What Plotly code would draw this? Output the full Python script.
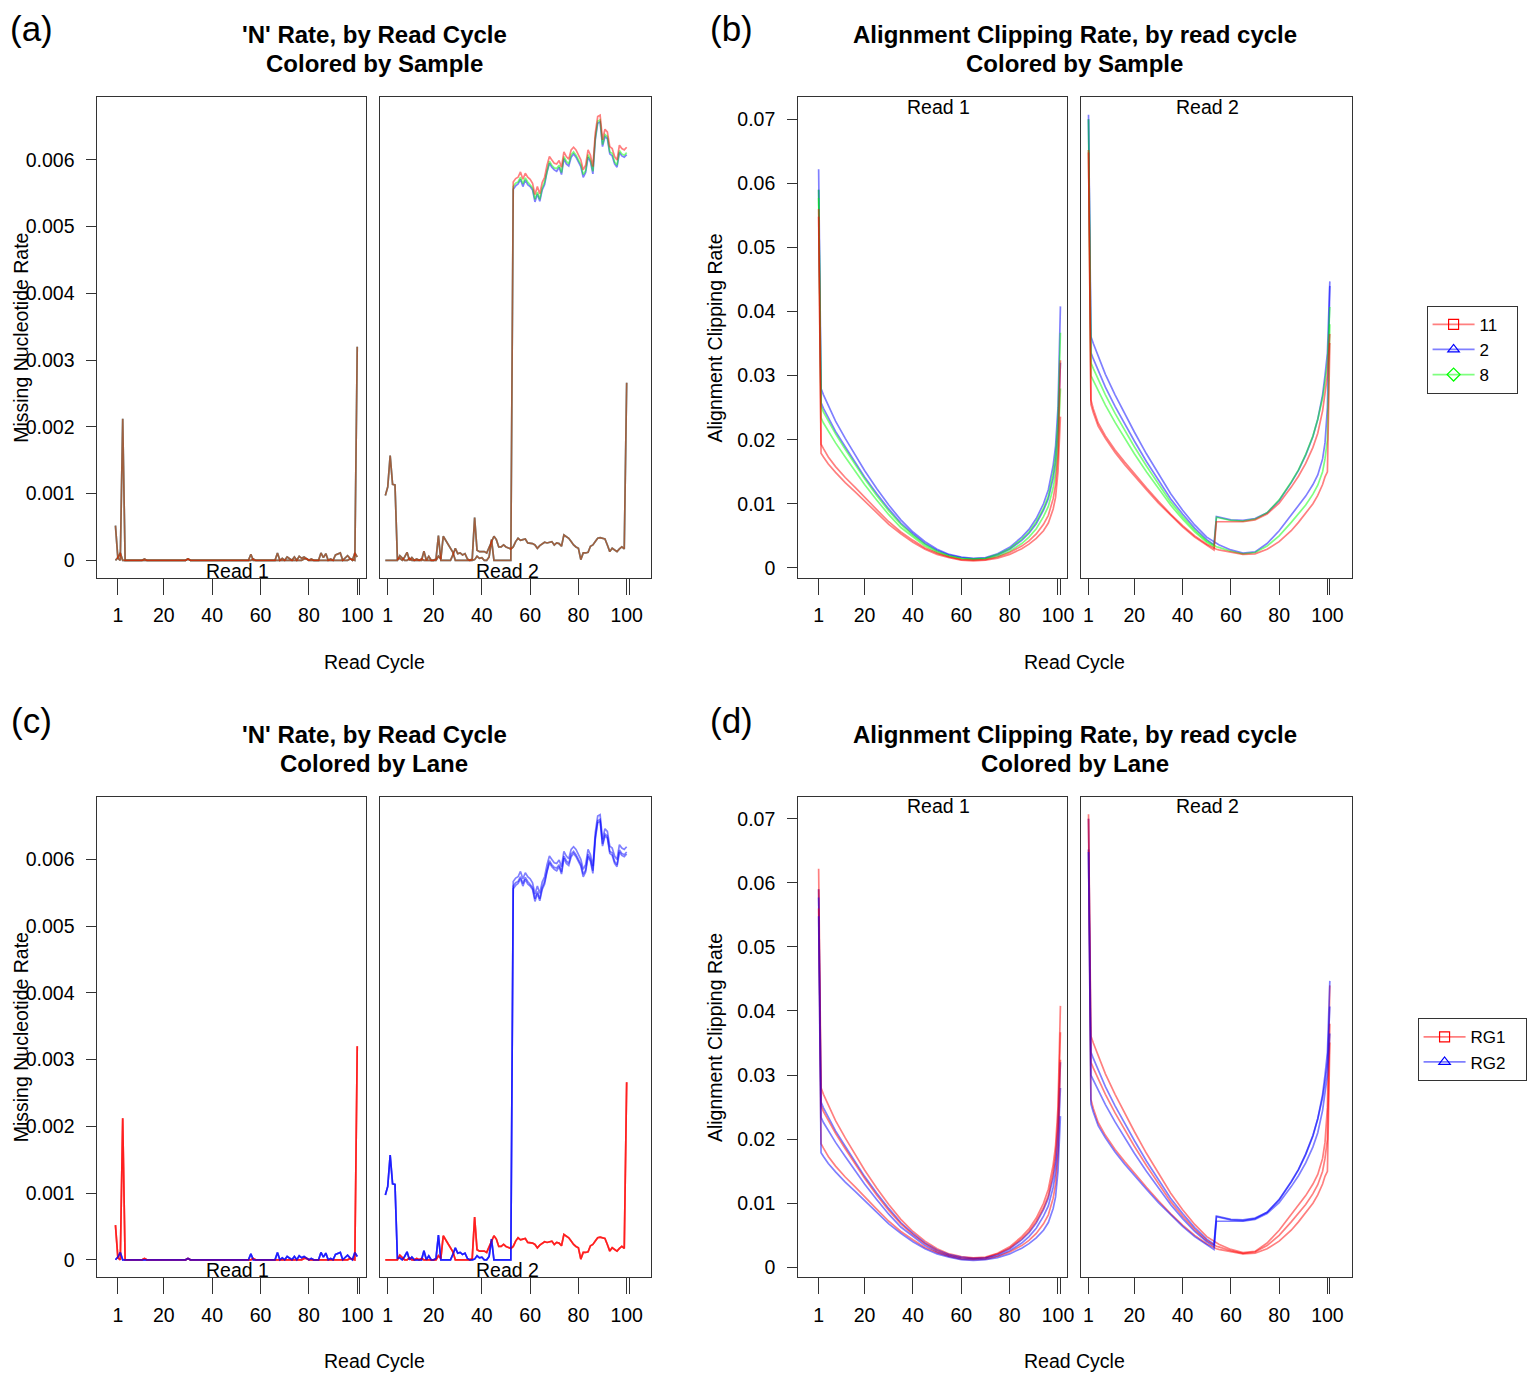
import plotly.graph_objects as go

# Page is rendered with an 8px body margin, so the figure is offset by OFF px.
OFF = 8
SX = 1.0057          # horizontal correction observed between page and picture
W, H = 1524, 1384
FONT = "Liberation Sans, Arial, Helvetica, sans-serif"

# ------------------------------------------------------------------ data
samples = ["2", "8", "11"]          # drawing order
lanes = ["RG1", "RG2"]
legend_samples = ["11", "2", "8"]
legend_lanes = ["RG1", "RG2"]

n_cycles = list(range(0, 101))

# 'N' rate, read 1, lane RG1 (same for every sample)
n_r1_rg1 = [0.00052, 0.00003, 0.0, 0.00212, 0.0, 0.0, 0.0, 0.0, 0.0, 0.0,
            0.0, 0.0, 0.00002, 0.0, 0.0, 0.0, 0.0, 0.0, 0.0, 0.0,
            0.0, 0.0, 0.0, 0.0, 0.0, 0.0, 0.0, 0.0, 0.0, 0.0,
            0.00002, 0.0, 0.0, 0.0, 0.0, 0.0, 0.0, 0.0, 0.0, 0.0,
            0.0, 0.0, 0.0, 0.0, 0.0, 0.0, 0.0, 0.0, 0.0, 0.0,
            0.0, 0.0, 0.0, 0.0, 0.0, 0.0, 0.0, 0.00002, 0.0, 0.0,
            0.0, 0.0, 0.0, 0.0, 0.0, 0.0, 0.0, 0.0, 0.0, 0.0,
            0.0, 0.0, 0.0, 0.0, 0.0, 0.0, 0.0, 0.0, 0.00002, 0.00002,
            0.0, 0.0, 0.0, 0.0, 0.0, 0.0, 0.0, 0.0, 0.0, 0.0,
            0.0, 0.0, 0.0, 0.0, 0.0, 0.0, 0.0, 0.00002, 0.00001, 0.0,
            0.0032]

# 'N' rate, read 1, lane RG2
n_r1_rg2 = [0.0, 0.00004, 0.00011, 0.0, 0.0, 0.0, 0.0, 0.0, 0.0, 0.0,
            0.0, 0.0, 0.0, 0.0, 0.0, 0.0, 0.0, 0.0, 0.0, 0.0,
            0.0, 0.0, 0.0, 0.0, 0.0, 0.0, 0.0, 0.0, 0.0, 0.0,
            0.00002, 0.0, 0.0, 0.0, 0.0, 0.0, 0.0, 0.0, 0.0, 0.0,
            0.0, 0.0, 0.0, 0.0, 0.0, 0.0, 0.0, 0.0, 0.0, 0.0,
            0.0, 0.0, 0.0, 0.00001, 0.0, 0.0, 0.00009, 0.0, 0.0, 0.0,
            0.0, 0.00001, 0.0, 0.0, 0.0, 0.0, 0.0, 0.00011, 0.0, 0.00003,
            0.0, 0.00005, 0.00002, 0.0, 0.00005, 0.0, 0.00006, 0.00003, 0.00005, 0.00002,
            0.0, 0.00002, 0.0, 0.0, 0.0, 0.00011, 0.00004, 0.0001, 0.0, 0.00002,
            0.0, 0.00008, 0.0001, 0.00011, 0.0, 0.00003, 0.00007, 0.00003, 0.0, 0.00011,
            0.00005]

# 'N' rate, read 2, lane RG1
n_r2_rg1 = [0.0, 0.0, 0.0, 0.0, 0.0, 0.0, 0.00007, 0.00003, 0.0, 0.0,
            0.00003, 0.0, 0.0, 0.00002, 0.0, 0.00002, 0.0, 0.0, 0.0, 0.0,
            0.0, 0.0, 0.00006, 0.00002, 0.00036, 0.0003, 0.00024, 0.0002, 0.00012, 0.0,
            0.0, 0.0, 0.0, 0.0, 0.0, 0.0, 0.00002, 0.00064, 0.00015, 0.00013,
            0.00013, 0.00013, 0.00011, 0.0002, 0.00028, 0.00036, 0.00031, 0.0002, 0.0002, 0.00023,
            0.0002, 0.00018, 0.00017, 0.0002, 0.00028, 0.00033, 0.0003, 0.00031, 0.00032, 0.00026,
            0.00026, 0.00025, 0.00023, 0.00018, 0.00022, 0.00025, 0.00027, 0.00026, 0.00027, 0.00028,
            0.00023, 0.00026, 0.00025, 0.00021, 0.00038, 0.00036, 0.00033, 0.00028, 0.00023, 0.0002,
            0.00018, 0.00001, 0.00011, 0.00011, 0.00012, 0.00021, 0.00023, 0.00028, 0.00033, 0.00034,
            0.00033, 0.00032, 0.00023, 0.00013, 0.00018, 0.00015, 0.00013, 0.00017, 0.0002, 0.00017,
            0.00266]

# 'N' rate, read 2, lane RG2: cycles 0-52 (same for every sample)
n_r2_rg2_head = [0.00097, 0.0011, 0.00157, 0.00114, 0.00113, 0.00002, 0.00003, 0.0, 0.00005, 0.00012,
                 0.0, 0.00004, 0.0, 0.0, 0.0, 0.0, 0.000135, 0.0, 0.00006, 0.0,
                 0.0, 0.00002, 0.00037, 0.0, 0.0, 0.0, 0.0, 0.0, 0.00008, 0.00018,
                 0.0001, 0.00011, 0.00008, 0.0001, 0.00002, 0.0, 0.0, 0.00001, 0.00006, 0.00003,
                 0.00004, 0.0, 0.0, 0.00005, 0.00031, 0.0, 0.0, 0.0, 0.0, 0.0,
                 0.0, 0.0, 0.0]
# 'N' rate, read 2, lane RG2: cycles 53-100, per sample
n_r2_rg2_tail_s11 = [0.00567, 0.00572, 0.00574, 0.00582, 0.00571, 0.00580, 0.00574, 0.00571, 0.00565, 0.00548,
                     0.00560, 0.00549, 0.00566, 0.00574, 0.00592, 0.00605, 0.00600, 0.00595, 0.00594, 0.00599,
                     0.00589, 0.00612, 0.00605, 0.00601, 0.00615, 0.00619, 0.00615, 0.00607, 0.00600, 0.00585,
                     0.00592, 0.00615, 0.00607, 0.00590, 0.00640, 0.00665, 0.00667, 0.00630, 0.00646, 0.00642,
                     0.00620, 0.00617, 0.00605, 0.00600, 0.00622, 0.00617, 0.00615, 0.00619]
n_r2_rg2_tail_s8 = [0.00560, 0.00565, 0.00567, 0.00574, 0.00564, 0.00573, 0.00567, 0.00563, 0.00558, 0.00541,
                    0.00552, 0.00541, 0.00558, 0.00567, 0.00585, 0.00598, 0.00592, 0.00588, 0.00587, 0.00592,
                    0.00581, 0.00605, 0.00598, 0.00594, 0.00608, 0.00612, 0.00607, 0.00600, 0.00593, 0.00578,
                    0.00584, 0.00608, 0.00600, 0.00583, 0.00633, 0.00658, 0.00660, 0.00623, 0.00638, 0.00635,
                    0.00612, 0.00610, 0.00597, 0.00592, 0.00614, 0.00609, 0.00607, 0.00611]
n_r2_rg2_tail_s2 = [0.00556, 0.00561, 0.00564, 0.00571, 0.00560, 0.00570, 0.00563, 0.00560, 0.00555, 0.00537,
                    0.00549, 0.00538, 0.00555, 0.00563, 0.00582, 0.00595, 0.00589, 0.00585, 0.00583, 0.00589,
                    0.00578, 0.00602, 0.00594, 0.00591, 0.00604, 0.00609, 0.00604, 0.00597, 0.00590, 0.00574,
                    0.00581, 0.00604, 0.00597, 0.00579, 0.00630, 0.00655, 0.00657, 0.00620, 0.00635, 0.00632,
                    0.00609, 0.00606, 0.00594, 0.00589, 0.00611, 0.00606, 0.00604, 0.00608]

# Alignment clipping rate
clip_cycles_r1 = [1, 2, 3, 5, 8, 12, 16, 20, 25, 30, 35, 40, 45, 50, 55, 60, 65, 70, 75, 80,
                  85, 88, 91, 94, 96, 98, 99, 100, 101]
clip_r1_s2_rg1 = [0.0622, 0.0280, 0.0270, 0.0253, 0.0229, 0.0202, 0.0176, 0.0152, 0.0124, 0.0098,
                  0.0075, 0.0056, 0.0041, 0.0029, 0.0021, 0.0017, 0.0015, 0.0016, 0.0022, 0.0032,
                  0.0048, 0.0060, 0.0077, 0.0100, 0.0122, 0.0160, 0.0190, 0.0250, 0.0408]
clip_r1_s2_rg2 = [0.0590, 0.0258, 0.0249, 0.0234, 0.0213, 0.0189, 0.0165, 0.0142, 0.0116, 0.0092,
                  0.0070, 0.0053, 0.0038, 0.0027, 0.0020, 0.0016, 0.0014, 0.0015, 0.0020, 0.0029,
                  0.0043, 0.0054, 0.0069, 0.0090, 0.0108, 0.0140, 0.0165, 0.0215, 0.0320]
clip_r1_s8_rg1 = [0.0590, 0.0252, 0.0243, 0.0229, 0.0209, 0.0185, 0.0162, 0.0139, 0.0113, 0.0089,
                  0.0068, 0.0051, 0.0037, 0.0026, 0.0019, 0.0015, 0.0014, 0.0015, 0.0021, 0.0030,
                  0.0045, 0.0056, 0.0072, 0.0093, 0.0112, 0.0148, 0.0175, 0.0230, 0.0367]
clip_r1_s8_rg2 = [0.0577, 0.0234, 0.0226, 0.0213, 0.0195, 0.0173, 0.0152, 0.0130, 0.0106, 0.0083,
                  0.0063, 0.0048, 0.0034, 0.0024, 0.0018, 0.0014, 0.0013, 0.0014, 0.0018, 0.0026,
                  0.0038, 0.0048, 0.0061, 0.0080, 0.0096, 0.0125, 0.0148, 0.0190, 0.0280]
clip_r1_s11_rg1 = [0.0560, 0.0193, 0.0186, 0.0173, 0.0158, 0.0141, 0.0126, 0.0110, 0.0091, 0.0072,
                   0.0056, 0.0043, 0.0031, 0.0023, 0.0017, 0.0013, 0.0012, 0.0013, 0.0017, 0.0024,
                   0.0034, 0.0042, 0.0053, 0.0068, 0.0082, 0.0108, 0.0130, 0.0175, 0.0324]
clip_r1_s11_rg2 = [0.0548, 0.0179, 0.0173, 0.0162, 0.0149, 0.0133, 0.0119, 0.0104, 0.0086, 0.0068,
                   0.0053, 0.0040, 0.0029, 0.0021, 0.0016, 0.0012, 0.0011, 0.0012, 0.0015, 0.0021,
                   0.0030, 0.0037, 0.0046, 0.0058, 0.0070, 0.0092, 0.0110, 0.0150, 0.0236]

clip_cycles_r2 = [1, 2, 3, 5, 8, 12, 16, 20, 25, 30, 35, 40, 45, 50, 53, 54, 55, 60, 65, 70,
                  75, 80, 85, 88, 91, 94, 96, 98, 99, 100, 101]
clip_r2_s2_rg1 = [0.0707, 0.0361, 0.0350, 0.0330, 0.0302, 0.0270, 0.0240, 0.0212, 0.0178, 0.0146,
                  0.0116, 0.0090, 0.0067, 0.0048, 0.0040, 0.0038, 0.0036, 0.0028, 0.0023, 0.0025,
                  0.0038, 0.0058, 0.0083, 0.0097, 0.0112, 0.0130, 0.0145, 0.0170, 0.0195, 0.0250, 0.0440]
clip_r2_s2_rg2 = [0.0700, 0.0336, 0.0326, 0.0308, 0.0282, 0.0252, 0.0224, 0.0198, 0.0166, 0.0136,
                  0.0108, 0.0084, 0.0062, 0.0044, 0.0036, 0.0080, 0.0079, 0.0075, 0.0074, 0.0077,
                  0.0086, 0.0105, 0.0133, 0.0152, 0.0176, 0.0205, 0.0232, 0.0270, 0.0300, 0.0335, 0.0447]
clip_r2_s8_rg1 = [0.0700, 0.0320, 0.0311, 0.0294, 0.0270, 0.0241, 0.0214, 0.0189, 0.0159, 0.0130,
                  0.0103, 0.0080, 0.0059, 0.0042, 0.0035, 0.0033, 0.0032, 0.0026, 0.0022, 0.0024,
                  0.0034, 0.0050, 0.0071, 0.0084, 0.0098, 0.0115, 0.0129, 0.0150, 0.0170, 0.0200, 0.0380]
clip_r2_s8_rg2 = [0.0652, 0.0300, 0.0292, 0.0276, 0.0254, 0.0227, 0.0202, 0.0178, 0.0150, 0.0123,
                  0.0098, 0.0076, 0.0056, 0.0040, 0.0033, 0.0079, 0.0078, 0.0074, 0.0073, 0.0076,
                  0.0086, 0.0106, 0.0134, 0.0153, 0.0177, 0.0206, 0.0232, 0.0265, 0.0290, 0.0320, 0.0407]
clip_r2_s11_rg1 = [0.0652, 0.0262, 0.0248, 0.0226, 0.0206, 0.0184, 0.0165, 0.0147, 0.0125, 0.0104,
                   0.0084, 0.0066, 0.0050, 0.0037, 0.0030, 0.0029, 0.0028, 0.0024, 0.0021, 0.0022,
                   0.0029, 0.0041, 0.0058, 0.0071, 0.0085, 0.0100, 0.0113, 0.0130, 0.0142, 0.0150, 0.0351]
clip_r2_s11_rg2 = [0.0648, 0.0255, 0.0242, 0.0221, 0.0202, 0.0180, 0.0161, 0.0143, 0.0122, 0.0101,
                   0.0082, 0.0064, 0.0048, 0.0035, 0.0028, 0.0072, 0.0072, 0.0071, 0.0072, 0.0075,
                   0.0084, 0.0101, 0.0126, 0.0143, 0.0163, 0.0188, 0.0210, 0.0245, 0.0270, 0.0300, 0.0365]

x_tick_vals = [1, 20, 40, 60, 80, 100, 101]
x_tick_text = ["1", "20", "40", "60", "80", "100", ""]
n_tick_vals = [0, 0.001, 0.002, 0.003, 0.004, 0.005, 0.006]
n_tick_text = ["0", "0.001", "0.002", "0.003", "0.004", "0.005", "0.006"]
c_tick_vals = [0, 0.01, 0.02, 0.03, 0.04, 0.05, 0.06, 0.07]
c_tick_text = ["0", "0.01", "0.02", "0.03", "0.04", "0.05", "0.06", "0.07"]

# ------------------------------------------------------------------ series tables
n_rate = {
    ("2", "RG1"): (n_r1_rg1, n_r2_rg1),
    ("2", "RG2"): (n_r1_rg2, n_r2_rg2_head + n_r2_rg2_tail_s2),
    ("8", "RG1"): (n_r1_rg1, n_r2_rg1),
    ("8", "RG2"): (n_r1_rg2, n_r2_rg2_head + n_r2_rg2_tail_s8),
    ("11", "RG1"): (n_r1_rg1, n_r2_rg1),
    ("11", "RG2"): (n_r1_rg2, n_r2_rg2_head + n_r2_rg2_tail_s11),
}
clip = {
    ("2", "RG1"): (clip_r1_s2_rg1, clip_r2_s2_rg1),
    ("2", "RG2"): (clip_r1_s2_rg2, clip_r2_s2_rg2),
    ("8", "RG1"): (clip_r1_s8_rg1, clip_r2_s8_rg1),
    ("8", "RG2"): (clip_r1_s8_rg2, clip_r2_s8_rg2),
    ("11", "RG1"): (clip_r1_s11_rg1, clip_r2_s11_rg1),
    ("11", "RG2"): (clip_r1_s11_rg2, clip_r2_s11_rg2),
}

sample_rgb = {"11": (255, 0, 0), "2": (0, 0, 255), "8": (0, 255, 0)}
lane_rgb = {"RG1": (255, 0, 0), "RG2": (0, 0, 255)}
sample_sym = {"11": "square-open", "2": "triangle-up-open", "8": "diamond-open"}
lane_sym = {"RG1": "square-open", "RG2": "triangle-up-open"}
PAD = "\u00a0\u00a0\u00a0"   # right padding inside the legend boxes


def rgba(c, a):
    return "rgba(%d,%d,%d,%s)" % (c[0], c[1], c[2], a)


def fx(px):
    return (px * SX - OFF) / W


def fy(py):
    return 1 - (py - OFF) / H


ALPHA = 0.5
LW = 1.7

# ------------------------------------------------------------------ layout geometry (page pixels)
x_dom_read = {1: (97.3, 366.0), 2: (379.7, 650.3)}
x_range_read = {1: [-7.45, 103.8], 2: [-2.15, 110.1]}
col_off = [0, 700]
row_off = [0, 700]
y_dom = (97.3, 578.3)
y_range = {"n": [-0.0002635, 0.006939], "c": [-0.00156, 0.07343]}

fig = go.Figure()
layout = {}
annotations = []

AX = "#333333"
for k in range(1, 9):
    p = (k - 1) // 2
    read = (k - 1) % 2 + 1
    col, row = p % 2, p // 2
    kind = "n" if col == 0 else "c"
    x0, x1 = x_dom_read[read]
    x0 += col_off[col]
    x1 += col_off[col]
    y0, y1 = y_dom[0] + row_off[row], y_dom[1] + row_off[row]
    xs = "" if k == 1 else str(k)
    layout["xaxis" + xs] = dict(
        domain=[fx(x0), fx(x1)], range=x_range_read[read], anchor="y" + xs,
        tickvals=x_tick_vals, ticktext=x_tick_text, ticks="outside", ticklen=16,
        tickcolor=AX, tickwidth=1, showline=True, linecolor=AX, linewidth=1, mirror=True,
        showgrid=False, zeroline=False, tickfont=dict(size=19.5, color="black", family=FONT),
        ticklabelstandoff=4, fixedrange=True)
    layout["yaxis" + xs] = dict(
        domain=[fy(y1), fy(y0)], range=y_range[kind], anchor="x" + xs,
        tickvals=n_tick_vals if kind == "n" else c_tick_vals,
        ticktext=n_tick_text if kind == "n" else c_tick_text,
        ticks="outside" if read == 1 else "", ticklen=10, tickcolor=AX, tickwidth=1,
        showticklabels=(read == 1), showline=True, linecolor=AX, linewidth=1, mirror=True,
        showgrid=False, zeroline=False, tickfont=dict(size=19.5, color="black", family=FONT),
        ticklabelstandoff=8, fixedrange=True)

    # strip label
    strip_y = (571 if kind == "n" else 107) + row_off[row]
    annotations.append(dict(text="Read %d" % read, x=50.5, xref="x" + xs, y=fy(strip_y),
                            yref="paper", showarrow=False, xanchor="center", yanchor="middle",
                            font=dict(size=19.5, color="black", family=FONT)))

    # data traces
    for s in samples:
        for ln in lanes:
            if kind == "n":
                xv = n_cycles
                yv = n_rate[(s, ln)][read - 1]
            else:
                xv = clip_cycles_r1 if read == 1 else clip_cycles_r2
                yv = clip[(s, ln)][read - 1]
            c = sample_rgb[s] if row == 0 else lane_rgb[ln]
            fig.add_trace(go.Scatter(x=xv, y=yv, mode="lines", xaxis="x" + xs, yaxis="y" + xs,
                                     line=dict(color=rgba(c, ALPHA), width=LW),
                                     showlegend=False, hoverinfo="skip"))

# legend entries
for s in legend_samples:
    fig.add_trace(go.Scatter(x=[None], y=[None], mode="lines+markers", name=s + PAD,
                             xaxis="x3", yaxis="y3",
                             line=dict(color=rgba(sample_rgb[s], ALPHA), width=LW),
                             marker=dict(symbol=sample_sym[s], size=10, color=rgba(sample_rgb[s], 1),
                                         line=dict(width=1.2, color=rgba(sample_rgb[s], 1))),
                             legend="legend", showlegend=True))
for ln in legend_lanes:
    fig.add_trace(go.Scatter(x=[None], y=[None], mode="lines+markers", name=ln + PAD,
                             xaxis="x7", yaxis="y7",
                             line=dict(color=rgba(lane_rgb[ln], ALPHA), width=LW),
                             marker=dict(symbol=lane_sym[ln], size=10, color=rgba(lane_rgb[ln], 1),
                                         line=dict(width=1.2, color=rgba(lane_rgb[ln], 1))),
                             legend="legend2", showlegend=True))

# titles and labels
titles = [("'N' Rate, by Read Cycle", "Colored by Sample"),
          ("Alignment Clipping Rate, by read cycle", "Colored by Sample"),
          ("'N' Rate, by Read Cycle", "Colored by Lane"),
          ("Alignment Clipping Rate, by read cycle", "Colored by Lane")]
tags = ["(a)", "(b)", "(c)", "(d)"]
tag_y = [29, 29, 721, 721]
ytitles = ["Missing Nucleotide Rate", "Alignment Clipping Rate"]
ytitle_x = [21, 714]
for p in range(4):
    col, row = p % 2, p // 2
    cx = 373.8 + col_off[col]
    oy = row_off[row]
    annotations.append(dict(text="<b>%s</b>" % titles[p][0], x=fx(cx), y=fy(35 + oy),
                            xref="paper", yref="paper", showarrow=False, xanchor="center",
                            yanchor="middle", font=dict(size=24, color="black", family=FONT)))
    annotations.append(dict(text="<b>%s</b>" % titles[p][1], x=fx(cx), y=fy(64 + oy),
                            xref="paper", yref="paper", showarrow=False, xanchor="center",
                            yanchor="middle", font=dict(size=24, color="black", family=FONT)))
    annotations.append(dict(text=tags[p], x=fx(31 + col_off[col]), y=fy(tag_y[p]),
                            xref="paper", yref="paper", showarrow=False, xanchor="center",
                            yanchor="middle", font=dict(size=35, color="black", family=FONT)))
    annotations.append(dict(text="Read Cycle", x=fx(cx), y=fy(662 + oy),
                            xref="paper", yref="paper", showarrow=False, xanchor="center",
                            yanchor="middle", font=dict(size=19.5, color="black", family=FONT)))
    annotations.append(dict(text=ytitles[col], x=fx(ytitle_x[col]), y=fy(338 + oy),
                            xref="paper", yref="paper", showarrow=False, xanchor="center",
                            yanchor="middle", textangle=-90,
                            font=dict(size=19.5, color="black", family=FONT)))

legend_common = dict(bgcolor="white", bordercolor=AX, borderwidth=1,
                     font=dict(size=17, color="black", family=FONT),
                     xanchor="left", yanchor="top", tracegroupgap=0, itemwidth=42,
                     itemclick=False, itemdoubleclick=False)

fig.update_layout(
    width=W, height=H, margin=dict(l=0, r=0, t=0, b=0),
    paper_bgcolor="white", plot_bgcolor="white",
    font=dict(family=FONT, color="black"),
    annotations=annotations,
    legend=dict(x=fx(1425), y=fy(306), **legend_common),
    legend2=dict(x=fx(1416), y=fy(1019), **legend_common),
    **layout)

fig.write_html("out.html")
